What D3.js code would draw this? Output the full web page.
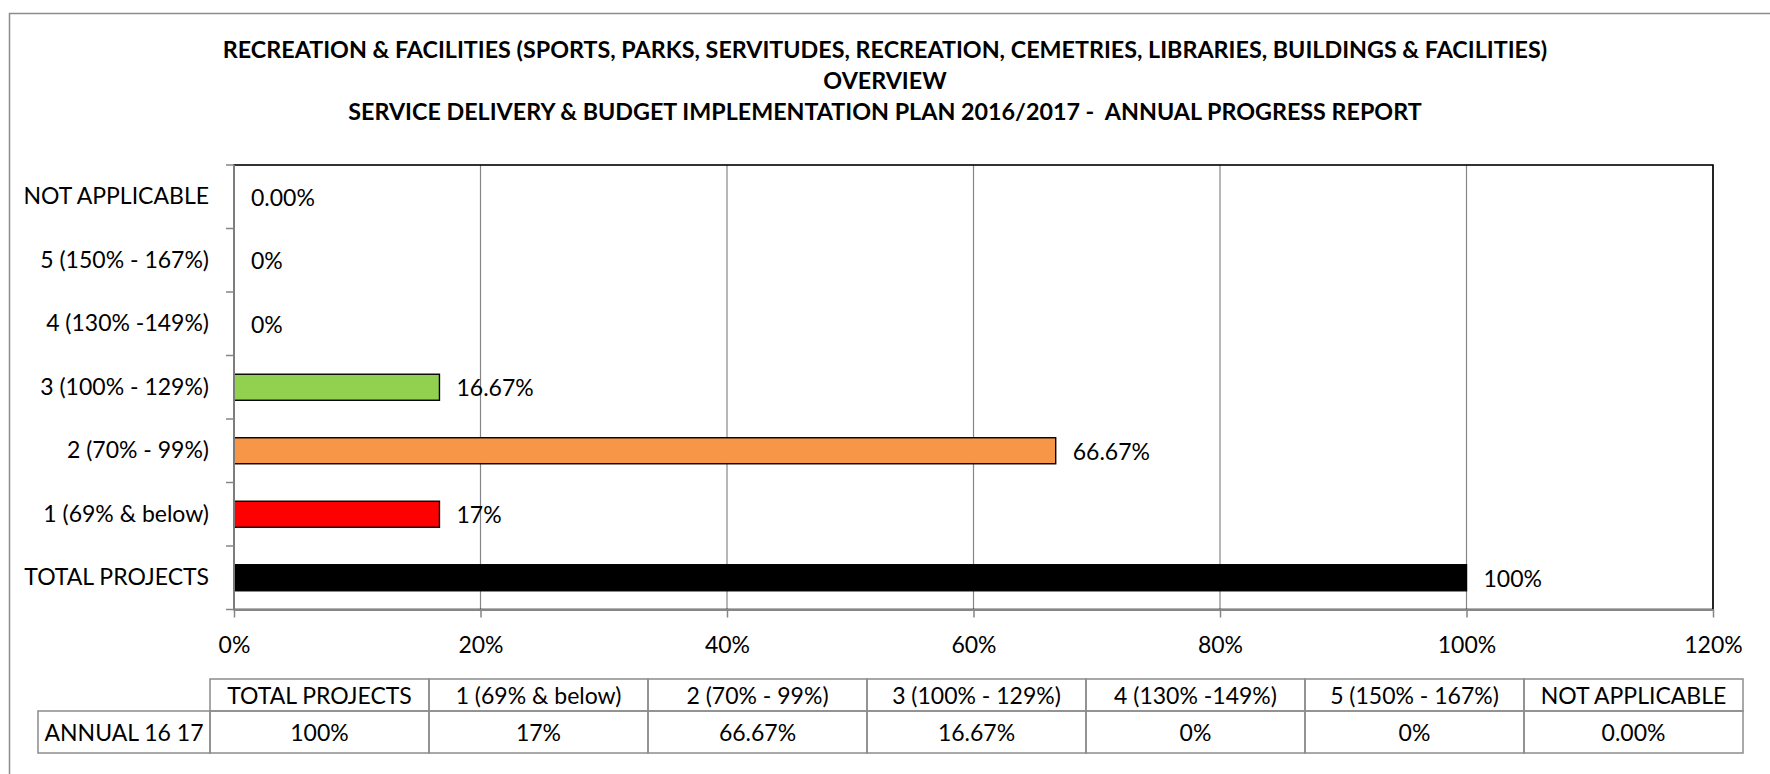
<!DOCTYPE html>
<html>
<head>
<meta charset="utf-8">
<script src="https://cdn.jsdelivr.net/npm/d3@7"></script>
<style>
  html, body { margin: 0; padding: 0; background: #fff; }
  svg { display: block; font-family: Lato, "Open Sans", sans-serif; }
  .title { white-space: pre; }
</style>
</head>
<body>
<svg id="chart" width="1770" height="774"></svg>
<script>
// Performance categories, listed from the bottom bar to the top bar
const categories = [
  "TOTAL PROJECTS",
  "1 (69% & below)",
  "2 (70% - 99%)",
  "3 (100% - 129%)",
  "4 (130% -149%)",
  "5 (150% - 167%)",
  "NOT APPLICABLE"
];
// Share of projects in each category (fraction of total)
const values = [1, 0.1667, 0.6667, 0.1667, 0, 0, 0];
// Decimal places shown in each data label
const labelDecimals = [0, 0, 2, 2, 0, 0, 2];
const barColors = ["#000000", "#FF0000", "#F79646", "#92D050", "#FFFFFF", "#FFFFFF", "#FFFFFF"];
const xTicks = [0, 0.2, 0.4, 0.6, 0.8, 1.0, 1.2];
const seriesName = "ANNUAL 16 17";
const titleLines = [
  "RECREATION & FACILITIES (SPORTS, PARKS, SERVITUDES, RECREATION, CEMETRIES, LIBRARIES, BUILDINGS & FACILITIES)",
  "OVERVIEW",
  "SERVICE DELIVERY & BUDGET IMPLEMENTATION PLAN 2016/2017 -  ANNUAL PROGRESS REPORT"
];

const W = 1770, H = 774;
const plot = { left: 234, right: 1713, top: 165, bottom: 609.5 };
const FONT = 23;
const GRID = "#868686";

const fmt = (v, d) => d3.format("." + d + "%")(v);
const data = categories.map((c, i) => ({ cat: c, value: values[i], dec: labelDecimals[i], color: barColors[i] }));

const svg = d3.select("#chart");

// chart area frame
svg.append("path")
  .attr("d", `M9.5,${H} V13.5 H${W}`)
  .attr("fill", "none").attr("stroke", "#8c8c8c").attr("stroke-width", 1.5);

// titles
const titleY = [49, 80, 111];
titleLines.forEach((t, i) => {
  svg.append("text").attr("class", "title")
    .attr("x", W / 2).attr("y", titleY[i])
    .attr("text-anchor", "middle").attr("dominant-baseline", "central")
    .attr("font-weight", "bold").attr("font-size", 23.3)
    .attr("fill", "#000")
    .text(t);
});

const x = d3.scaleLinear().domain([0, 1.2]).range([plot.left, plot.right]);
const y = d3.scaleBand().domain(categories.slice().reverse())
  .range([plot.top, plot.bottom]).paddingInner(0.59).paddingOuter(0.295);

// vertical gridlines
svg.append("g").selectAll("line").data(xTicks.slice(1)).join("line")
  .attr("x1", d => x(d)).attr("x2", d => x(d))
  .attr("y1", plot.top).attr("y2", plot.bottom)
  .attr("stroke", GRID).attr("stroke-width", 1.2);

// plot area border
svg.append("rect")
  .attr("x", plot.left).attr("y", plot.top)
  .attr("width", plot.right - plot.left).attr("height", plot.bottom - plot.top)
  .attr("fill", "none").attr("stroke", "#000").attr("stroke-width", 1.6);

// bars
svg.append("g").selectAll("rect").data(data.filter(d => d.value > 0)).join("rect")
  .attr("x", x(0)).attr("y", d => y(d.cat))
  .attr("width", d => x(d.value) - x(0)).attr("height", y.bandwidth())
  .attr("fill", d => d.color).attr("stroke", "#000").attr("stroke-width", 1.4);

// data labels
svg.append("g").selectAll("text").data(data).join("text")
  .attr("x", d => x(d.value) + 17)
  .attr("y", d => y(d.cat) + y.bandwidth() / 2)
  .attr("dominant-baseline", "central")
  .attr("font-size", FONT).attr("fill", "#000")
  .text(d => fmt(d.value, d.dec));

// category axis
const yAxis = svg.append("g").attr("transform", `translate(${plot.left},0)`)
  .call(d3.axisLeft(y).tickSize(0).tickPadding(25));
yAxis.select(".domain").remove();
yAxis.selectAll("text").attr("font-size", FONT).attr("font-family", "Lato, sans-serif").attr("fill", "#000");
const step = y.step();
const boundaries = d3.range(categories.length + 1).map(i => plot.top + i * step);
svg.append("g").selectAll("line").data(boundaries).join("line")
  .attr("x1", plot.left - 8).attr("x2", plot.left)
  .attr("y1", d => d).attr("y2", d => d)
  .attr("stroke", GRID).attr("stroke-width", 1.5);
svg.append("line")
  .attr("x1", plot.left).attr("x2", plot.left)
  .attr("y1", plot.top).attr("y2", plot.bottom)
  .attr("stroke", GRID).attr("stroke-width", 1.8);

// value axis
const xAxis = svg.append("g").attr("transform", `translate(0,${plot.bottom})`)
  .call(d3.axisBottom(x).tickValues(xTicks).tickFormat(d3.format(".0%")).tickSize(8).tickSizeOuter(0));
xAxis.select(".domain").attr("stroke", GRID).attr("stroke-width", 1.8);
xAxis.selectAll(".tick line").attr("stroke", GRID).attr("stroke-width", 1.5);
xAxis.selectAll("text").attr("y", 35).attr("dy", "0.35em")
  .attr("font-size", FONT).attr("font-family", "Lato, sans-serif").attr("fill", "#000");

// data table
const table = { left: 38, colStart: 210, colW: 219, top: 679, mid: 711, bottom: 753 };
const tbl = svg.append("g");
const tableCols = categories.map((c, i) => ({ cat: c, value: values[i], dec: labelDecimals[i], i }));
const colX = i => table.colStart + i * table.colW;
tbl.selectAll("rect.head").data(tableCols).join("rect").attr("class", "head")
  .attr("x", d => colX(d.i)).attr("y", table.top)
  .attr("width", table.colW).attr("height", table.mid - table.top)
  .attr("fill", "none").attr("stroke", "#8c8c8c").attr("stroke-width", 1.5);
tbl.selectAll("rect.val").data(tableCols).join("rect").attr("class", "val")
  .attr("x", d => colX(d.i)).attr("y", table.mid)
  .attr("width", table.colW).attr("height", table.bottom - table.mid)
  .attr("fill", "none").attr("stroke", "#8c8c8c").attr("stroke-width", 1.5);
tbl.append("rect")
  .attr("x", table.left).attr("y", table.mid)
  .attr("width", table.colStart - table.left).attr("height", table.bottom - table.mid)
  .attr("fill", "none").attr("stroke", "#8c8c8c").attr("stroke-width", 1.5);
tbl.selectAll("text.head").data(tableCols).join("text").attr("class", "head")
  .attr("x", d => colX(d.i) + table.colW / 2).attr("y", (table.top + table.mid) / 2)
  .attr("text-anchor", "middle").attr("dominant-baseline", "central")
  .attr("font-size", FONT).text(d => d.cat);
tbl.selectAll("text.val").data(tableCols).join("text").attr("class", "val")
  .attr("x", d => colX(d.i) + table.colW / 2).attr("y", (table.mid + table.bottom) / 2)
  .attr("text-anchor", "middle").attr("dominant-baseline", "central")
  .attr("font-size", FONT).text(d => fmt(d.value, d.dec));
tbl.append("text")
  .attr("x", (table.left + table.colStart) / 2).attr("y", (table.mid + table.bottom) / 2)
  .attr("text-anchor", "middle").attr("dominant-baseline", "central")
  .attr("font-size", FONT).text(seriesName);
</script>
</body>
</html>
